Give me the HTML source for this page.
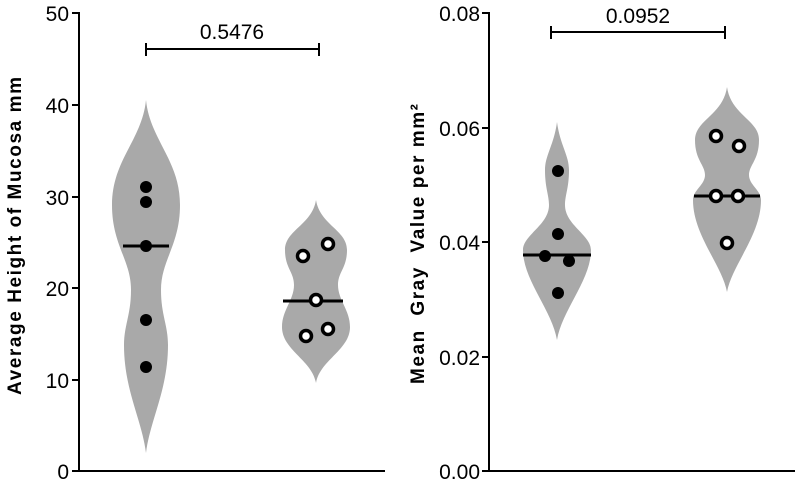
<!DOCTYPE html>
<html><head><style>body{margin:0;background:#fff}svg{display:block}text{font-family:"Liberation Sans",sans-serif}</style></head>
<body>
<svg width="797" height="482" viewBox="0 0 797 482" xmlns="http://www.w3.org/2000/svg">
<g fill="#a9a9a9">
<path d="M146,100 C150,140 180,160 180,205 C180,245 161,260 161,290 C161,315 168,325 168,345 C168,390 150,420 146,453 C142,420 124,390 124,345 C124,325 131,315 131,290 C131,260 112,245 112,205 C112,160 142,140 146,100 Z"/>
<path d="M316,200 C320,225 347,230 347,250 C347,268 338,272 338,285 C338,300 350,310 350,327 C350,350 320,360 316,383 C312,360 282,350 282,327 C282,310 294,300 294,285 C294,272 285,268 285,250 C285,230 312,225 316,200 Z"/>
<path d="M557,122 C560,145 569,155 569,170 C569,188 565,195 565,205 C565,225 591,235 591,250 C591,280 562,310 557,340 C552,310 523,280 523,250 C523,235 549,225 549,205 C549,195 545,188 545,170 C545,155 554,145 557,122 Z"/>
<path d="M727,87 C731,115 759,120 759,140 C759,160 749,165 749,175 C749,185 761,190 761,200 C761,235 732,265 727,292 C722,265 693,235 693,200 C693,190 705,185 705,175 C705,165 695,160 695,140 C695,120 723,115 727,87 Z"/>
</g>
<g stroke="#000" stroke-width="2" fill="none">
<path d="M79,12 V471 H385"/>
<path d="M72,13 H79 M72,105 H79 M72,197 H79 M72,288 H79 M72,380 H79 M72,471 H79"/>
<path d="M489,12 V471 H795"/>
<path d="M482,13 H489 M482,128 H489 M482,242 H489 M482,357 H489 M482,471 H489"/>
<path d="M146,49 H319 M146,43 V56 M319,43 V56"/>
<path d="M551,32 H725 M551,26 V39 M725,26 V39"/>
</g>
<g stroke="#000" stroke-width="3">
<path d="M123,246 H169 M283,301 H343 M523,255 H591 M694,196 H760"/>
</g>
<g fill="#000">
<circle cx="146" cy="187" r="6"/><circle cx="146" cy="202" r="6"/><circle cx="146" cy="246" r="6"/><circle cx="146" cy="320" r="6"/><circle cx="146" cy="367" r="6"/>
<circle cx="558" cy="171" r="6"/><circle cx="558" cy="234" r="6"/><circle cx="545" cy="256" r="6"/><circle cx="569" cy="261" r="6"/><circle cx="558" cy="293" r="6"/>
</g>
<g fill="#fff" stroke="#000" stroke-width="3.5">
<circle cx="303" cy="256" r="5.5"/><circle cx="328" cy="244" r="5.5"/><circle cx="316" cy="300" r="5.5"/><circle cx="306" cy="336" r="5.5"/><circle cx="328" cy="329" r="5.5"/>
<circle cx="716" cy="136" r="5.5"/><circle cx="739" cy="146" r="5.5"/><circle cx="716" cy="196" r="5.5"/><circle cx="738" cy="196" r="5.5"/><circle cx="727" cy="243" r="5.5"/>
</g>
<g font-size="21" text-anchor="end" fill="#000">
<text x="69" y="21">50</text><text x="69" y="113">40</text><text x="69" y="205">30</text><text x="69" y="296">20</text><text x="69" y="388">10</text><text x="69" y="479">0</text>
<text x="480" y="21">0.08</text><text x="480" y="136">0.06</text><text x="480" y="250">0.04</text><text x="480" y="365">0.02</text><text x="480" y="479">0.00</text>
</g>
<g font-size="21" text-anchor="middle" fill="#000">
<text x="232" y="39">0.5476</text><text x="638" y="23">0.0952</text>
</g>
<g font-size="19" font-weight="bold" fill="#000">
<text transform="translate(21,395) rotate(-90)" textLength="318" lengthAdjust="spacing">Average Height of Mucosa mm</text>
<text transform="translate(424,384) rotate(-90)" textLength="280" lengthAdjust="spacing" xml:space="preserve">Mean  Gray  Value per mm²</text>
</g>
</svg>
</body></html>
